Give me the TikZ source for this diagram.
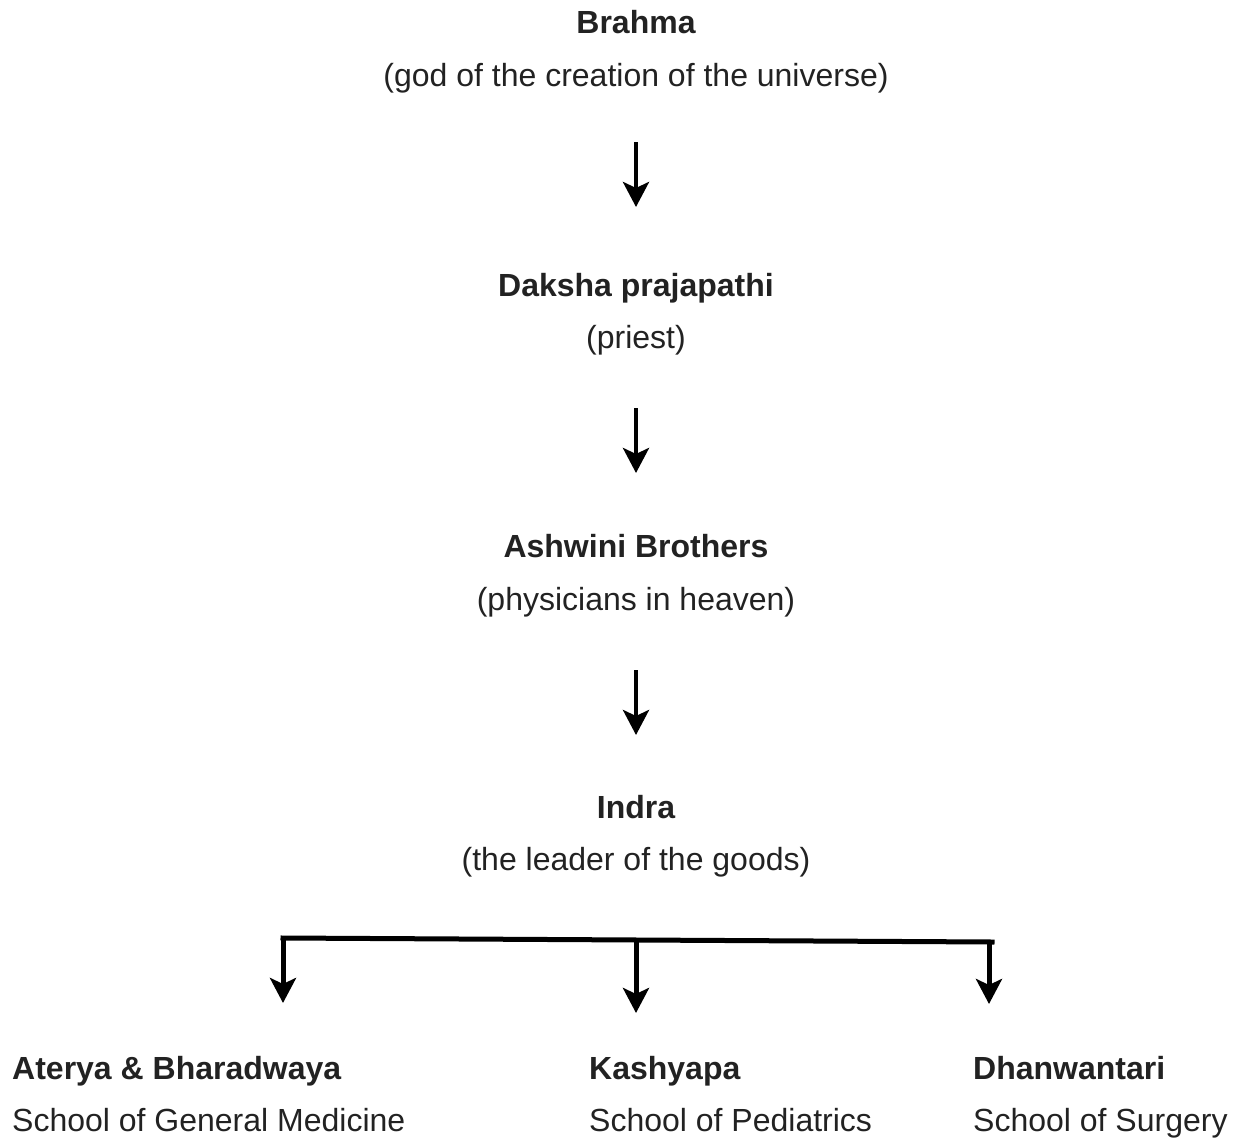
\documentclass[tikz,border=0pt]{standalone}
\usepackage{fontspec}
\setmainfont{Liberation Sans}
\usetikzlibrary{arrows.meta}
\definecolor{txt}{HTML}{222222}
\begin{document}
\begin{tikzpicture}[x=1pt,y=-1pt,
  title/.style={anchor=base,inner sep=0pt,text=txt,font=\fontsize{32}{38}\selectfont\bfseries},
  sub/.style={anchor=base,inner sep=0pt,text=txt,font=\fontsize{32}{38}\selectfont},
  ltitle/.style={title,anchor=base west},
  lsub/.style={sub,anchor=base west},
  arr/.style={line width=4.5pt,-{Stealth[length=25pt,width=26pt,inset=6pt]}},
  brk/.style={line width=5pt,line cap=rect}]
\useasboundingbox (0,0) rectangle (1235,1140);
% top chain
\node[title] (brahma) at (636,34) {Brahma};
\node[sub] (brahmasub) at (636,87) {(god of the creation of the universe)};
\node[title] (daksha) at (636,296) {Daksha prajapathi};
\node[sub] (dakshasub) at (636,348) {(priest)};
\node[title] (ashwini) at (636,557) {Ashwini Brothers};
\node[sub] (ashwinisub) at (636,610) {(physicians in heaven)};
\node[title] (indra) at (636,818) {Indra};
\node[sub] (indrasub) at (636,870) {(the leader of the goods)};
% bottom
\node[ltitle] (aterya) at (12,1079) {Aterya \& Bharadwaya};
\node[lsub] (ateryasub) at (12,1131) {School of General Medicine};
\node[ltitle] (kashyapa) at (589,1079) {Kashyapa};
\node[lsub] (kashyapasub) at (589,1131) {School of Pediatrics};
\node[ltitle] (dhan) at (973,1079) {Dhanwantari};
\node[lsub] (dhansub) at (973,1131) {School of Surgery};
% arrows between levels
\coordinate (a1s) at (636,142); \coordinate (a1e) at (636,207);
\coordinate (a2s) at (636,408); \coordinate (a2e) at (636,473);
\coordinate (a3s) at (636,670); \coordinate (a3e) at (636,735);
\draw[arr] (a1s) -- (a1e);
\draw[arr] (a2s) -- (a2e);
\draw[arr] (a3s) -- (a3e);
% bracket
\coordinate (hl) at (283,938);
\coordinate (hr) at (992,942);
\draw[brk] (hl) -- (hr);
\coordinate (bl) at (283,1003);
\coordinate (hm) at (636,940);
\coordinate (bm) at (636,1013);
\coordinate (hr2) at (989,942);
\coordinate (br) at (989,1004);
\draw[arr,line width=5pt] (hl) -- (bl);
\draw[arr,line width=5pt] (hm) -- (bm);
\draw[arr,line width=5pt] (hr2) -- (br);
\end{tikzpicture}
\end{document}
